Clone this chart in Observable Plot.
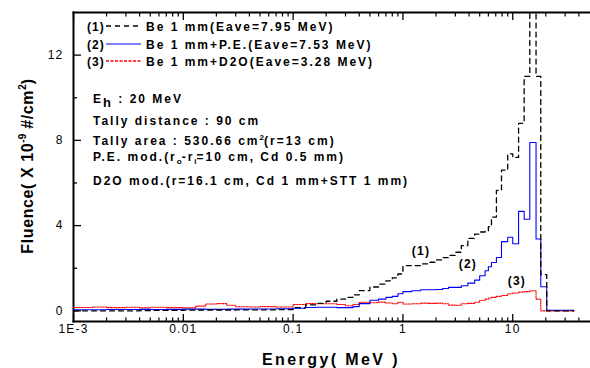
<!DOCTYPE html>
<html><head><meta charset="utf-8">
<script src="https://cdn.jsdelivr.net/npm/d3@7"></script>
<script src="https://cdn.jsdelivr.net/npm/@observablehq/plot@0.6"></script>
<style>
body{margin:0;background:#fff}
#chart svg{display:block}
</style>
</head><body><div id="chart"></div>
<script>
// Bin lower edges (MeV); last entry closes the final bin
const energy = [0.001,0.0015,0.002,0.003,0.004,0.005,0.007,0.01,0.013,0.016,0.02,0.025,0.03,0.04,0.05,0.07,
  0.1,0.13,0.16,0.2,0.25,0.3,0.35,0.4,0.5,0.6,0.7,0.8,0.9,
  1.0,1.2,1.45,1.7,2.0,2.3,2.6,3.0,3.4,3.9,4.5,5.0,5.6,6.0,6.4,7.1,7.9,9.0,
  10,11.3,12.7,14.3,16.3,18,20.4,36];
// (1) Be 1 mm
const fluenceBe = [0.0,0.0,0.0,0.0,0.01,0.02,0.02,0.03,0.04,0.04,0.04,0.04,0.05,0.05,0.05,0.06,
  0.15,0.28,0.35,0.45,0.55,0.63,0.75,0.95,1.12,1.25,1.41,1.55,1.73,
  2.12,2.12,2.2,2.28,2.39,2.5,2.6,2.75,3.06,3.4,3.6,3.7,3.76,3.95,4.4,5.65,6.6,7.37,
  7.2,8.8,11.0,16.0,11.0,1.7,0.0,0.0];
// (2) Be 1 mm + P.E.
const fluencePE = [0.05,0.05,0.06,0.06,0.07,0.06,0.07,0.08,0.08,0.07,0.07,0.08,0.08,0.09,0.09,0.1,
  0.12,0.16,0.17,0.17,0.15,0.15,0.2,0.34,0.5,0.55,0.63,0.68,0.8,
  0.9,0.94,0.99,0.99,1.0,1.05,1.1,1.1,1.18,1.3,1.44,1.65,1.88,2.07,2.27,2.5,3.25,3.45,
  3.15,4.67,4.3,7.9,3.37,1.13,0.03,0.03];
// (3) Be 1 mm + D2O
const fluenceD2O = [0.16,0.18,0.15,0.17,0.14,0.17,0.15,0.14,0.22,0.32,0.34,0.26,0.19,0.18,0.2,0.18,
  0.3,0.34,0.33,0.33,0.3,0.24,0.3,0.4,0.38,0.41,0.37,0.33,0.4,
  0.32,0.33,0.36,0.35,0.36,0.33,0.27,0.26,0.33,0.35,0.4,0.5,0.55,0.6,0.63,0.68,0.72,0.8,
  0.84,0.88,0.9,0.94,0.55,0.0,0.0,0.0];

const seriesNames = ["(1)", "(2)", "(3)"];
const legendLabels = ["Be 1 mm(Eave=7.95 MeV)", "Be 1 mm+P.E.(Eave=7.53 MeV)", "Be 1 mm+D2O(Eave=3.28 MeV)"];
const tagEnergy = [1.46, 3.9, 10.9];
const tagFluence = [2.78, 2.2, 1.41];

const xMajorTicks = [0.001, 0.01, 0.1, 1, 10];
const xMajorLabels = ["1E-3", "0.01", "0.1", "1", "10"];
const yMajorTicks = [0, 4, 8, 12];
const yMinorTicks = [2, 6, 10];

const xMinorTicks = [];
for (const dec of [0.001, 0.01, 0.1, 1, 10]) for (let k = 2; k <= 9; k++) if (dec * k <= 45) xMinorTicks.push(dec * k);
const xLabelMap = new Map(xMajorTicks.map((t, i) => [t, xMajorLabels[i]]));

const rows = (vals) => energy.map((e, i) => ({E: e, F: vals[i]}));
const tags = seriesNames.map((t, i) => ({t, E: tagEnergy[i], F: tagFluence[i]}));

const styles = [
  {stroke: "#000", strokeWidth: 1.3, dash: "5,4"},
  {stroke: "#0000ff", strokeWidth: 1.1, dash: null},
  {stroke: "#ff0000", strokeWidth: 1.1, dash: "1.5,1.2"}
];

const FONT = "Arial, 'Liberation Sans', sans-serif";

const plot = Plot.plot({
  width: 590, height: 368,
  marginLeft: 73, marginRight: 1, marginTop: 12, marginBottom: 47,
  x: {type: "log", domain: [0.001, 50]},
  y: {domain: [-0.5, 14]},
  style: {fontFamily: FONT, fontSize: "12px"},
  marks: [
    Plot.frame({anchor: "left", stroke: "#000", strokeWidth: 2}),
    Plot.frame({anchor: "top", stroke: "#000", strokeWidth: 2}),
    Plot.frame({anchor: "bottom", stroke: "#000", strokeWidth: 2}),
    Plot.axisX({ticks: xMajorTicks, tickSize: -7, text: null, label: null, strokeWidth: 1.3}),
    Plot.axisX({ticks: xMinorTicks, tickSize: -3.5, text: null, label: null, strokeWidth: 1.2}),
    Plot.axisX({anchor: "top", ticks: xMajorTicks, tickSize: -7, text: null, label: null, strokeWidth: 1.3}),
    Plot.axisX({anchor: "top", ticks: xMinorTicks, tickSize: -3.5, text: null, label: null, strokeWidth: 1.2}),
    Plot.axisY({ticks: yMajorTicks, tickSize: -8, text: null, label: null, strokeWidth: 1.3}),
    Plot.axisY({ticks: yMinorTicks, tickSize: -4, text: null, label: null, strokeWidth: 1.3}),
    Plot.axisX({ticks: xMajorTicks, tickSize: 0, tickPadding: 3, tickFormat: d => xLabelMap.get(d), label: null, fontSize: 12}),
    Plot.axisY({ticks: yMajorTicks, tickSize: 0, tickPadding: 10, label: null, fontSize: 12}),
    Plot.lineY(rows(fluenceD2O), {x: "E", y: "F", curve: "step-after", stroke: styles[2].stroke, strokeWidth: styles[2].strokeWidth, strokeDasharray: styles[2].dash, clip: true}),
    Plot.lineY(rows(fluencePE), {x: "E", y: "F", curve: "step-after", stroke: styles[1].stroke, strokeWidth: styles[1].strokeWidth, clip: true}),
    Plot.lineY(rows(fluenceBe), {x: "E", y: "F", curve: "step-after", stroke: styles[0].stroke, strokeWidth: styles[0].strokeWidth, strokeDasharray: styles[0].dash, clip: true}),
    Plot.text(tags, {x: "E", y: "F", text: "t", fontWeight: "bold", fontSize: 12})
  ]
});
document.getElementById("chart").appendChild(plot);

const svg = d3.select(plot);
svg.selectAll("[aria-label='x-axis tick label'] text, [aria-label='y-axis tick label'] text, [aria-label='text'] text")
  .attr("letter-spacing", "1.2px");

const g = svg.append("g")
  .attr("font-family", FONT).attr("font-weight", "bold").attr("fill", "#000")
  .attr("text-anchor", "start")
  .attr("font-size", 12).attr("letter-spacing", "2px");

// legend
const legendBaselines = [31, 48.6, 66];
const legendDash = ["5,4", null, "3,1.5"];
const legendWidth = [1.3, 1.2, 1.6];
legendLabels.forEach((lab, i) => {
  const yb = legendBaselines[i];
  const ly = Math.round(yb - 5);
  g.append("text").attr("x", 87).attr("y", yb).attr("letter-spacing", "1px").text(seriesNames[i]);
  g.append("rect").attr("x", 106).attr("y", ly - legendWidth[i] / 2).attr("width", 35).attr("height", legendWidth[i])
    .attr("fill", "none").attr("stroke", "none");
  g.append("line").attr("x1", 106).attr("x2", 141).attr("y1", ly).attr("y2", ly)
    .attr("stroke", styles[i].stroke).attr("stroke-width", legendWidth[i])
    .attr("stroke-dasharray", legendDash[i]);
  g.append("text").attr("x", 146).attr("y", yb).text(lab);
});

// annotation block
const t1 = g.append("text").attr("x", 93).attr("y", 102.6);
t1.append("tspan").text("E");
t1.append("tspan").attr("dy", 4).attr("font-size", 13).text("h");
t1.append("tspan").attr("dy", -4).text(" : 20 MeV");

g.append("text").attr("x", 93).attr("y", 124.6).text("Tally distance : 90 cm");

const t3 = g.append("text").attr("x", 93).attr("y", 145.3);
t3.append("tspan").text("Tally area : 530.66 cm");
t3.append("tspan").attr("dy", -5).attr("font-size", 8).attr("letter-spacing", "0px").text("2");
t3.append("tspan").attr("dy", 5).text("(r=13 cm)");

const t4 = g.append("text").attr("x", 93).attr("y", 161.3);
t4.append("tspan").text("P.E. mod.(r");
t4.append("tspan").attr("dy", 3).attr("font-size", 8).attr("letter-spacing", "0px").text("o");
t4.append("tspan").attr("dy", -3).text("-r");
t4.append("tspan").attr("dy", 3).attr("font-size", 8).attr("letter-spacing", "0px").text("i");
t4.append("tspan").attr("dy", -3).text("=10 cm, Cd 0.5 mm)");

g.append("text").attr("x", 93).attr("y", 185.3).text("D2O mod.(r=16.1 cm, Cd 1 mm+STT 1 mm)");

// axis titles
g.append("text").attr("x", 331).attr("y", 364.5).attr("text-anchor", "middle")
  .attr("font-size", 16).attr("letter-spacing", "2.4px").text("Energy( MeV )");

const yt = g.append("text").attr("transform", "translate(33,166) rotate(-90)")
  .attr("text-anchor", "middle").attr("font-size", 16).attr("letter-spacing", "0.6px");
yt.append("tspan").text("Fluence( X 10");
yt.append("tspan").attr("dy", -7).attr("font-size", 10).attr("letter-spacing", "0px").text("-9");
yt.append("tspan").attr("dy", 7).text(" #/cm");
yt.append("tspan").attr("dy", -7).attr("font-size", 10).attr("letter-spacing", "0px").text("2");
yt.append("tspan").attr("dy", 7).text(")");
</script>
</body></html>
